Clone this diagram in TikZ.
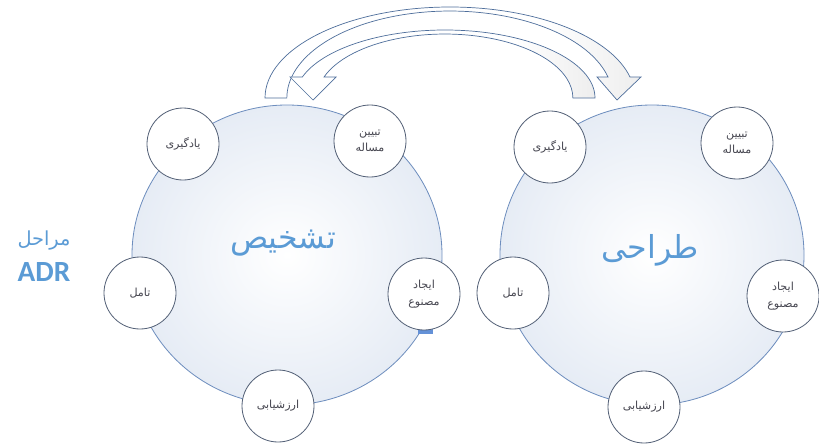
\documentclass[tikz,border=0pt]{standalone}
\usepackage{fontspec}
\usepackage{tikz}
\TeXXeTstate=1
\newfontfamily\farsi[Script=Arabic]{DejaVu Sans}
\newfontfamily\latinfont{Carlito}
\definecolor{adr_blue}{RGB}{91,155,213}
\definecolor{ring_line}{RGB}{110,142,190}
\definecolor{ring_fill}{RGB}{230,236,245}
\definecolor{stage_line}{RGB}{85,98,120}
\definecolor{stage_text}{RGB}{70,70,80}
\definecolor{arrow_line}{RGB}{78,110,155}
\definecolor{mark_blue}{RGB}{100,145,215}
\pgfdeclarehorizontalshading{bendshade}{100bp}{color(0bp)=(white); color(62bp)=(white); color(100bp)=(gray!40)}
\tikzstyle{bigring}=[draw=ring_line,line width=0.7pt,inner color=white,outer color=ring_fill]
\tikzstyle{stagenode}=[circle,fill=white,draw=stage_line,line width=0.7pt,
  inner sep=0pt,minimum size=2.16cm,align=center,text=stage_text,
  font=\farsi\fontsize{9.5}{14}\selectfont]
\tikzstyle{phaselabel}=[text=adr_blue,font=\farsi\fontsize{27}{30}\selectfont]
\tikzstyle{curvearrow}=[draw=arrow_line,line width=0.6pt,shade,shading=bendshade]

\begin{document}
\begin{tikzpicture}[x=0.03cm,y=-0.03cm]
    \useasboundingbox (0,0) rectangle (819,444);
    % the two phases
    \path [style=bigring] (287,255) ellipse [x radius=155, y radius=150];
    \path [style=bigring] (652,255) ellipse [x radius=152, y radius=150];
    % curved arrows on top
    \path [style=curvearrow] (265,98) arc [start angle=180, end angle=346.7, x radius=185, y radius=91]
      -- (641,77) -- (617,100) -- (597,77) -- (608,77)
      arc [start angle=346, end angle=180, x radius=163, y radius=87] -- cycle;
    \path [style=curvearrow] (595,98) arc [start angle=0, end angle=-162, x radius=150, y radius=68]
      -- (290,77) -- (313,100) -- (336,77) -- (324,77)
      arc [start angle=-160.8, end angle=0, x radius=128, y radius=64] -- cycle;
    \fill [mark_blue] (418,328) rectangle (433,334);
    % titles
    \node [style=phaselabel] (diag) at (283,243) {\beginR تشخیص\endR};
    \node [style=phaselabel] (design) at (650,250) {\beginR طراحی\endR};
    \node [text=adr_blue,font=\farsi\fontsize{16.5}{18}\selectfont] (steps) at (44,241) {\beginR مراحل\endR};
    \node [text=adr_blue,font=\latinfont\bfseries\fontsize{25}{28}\selectfont] (adr) at (44,272) {ADR};
    % stages of the left cycle
    \node [style=stagenode] (l_learn) at (183,144) {\beginR یادگیری\endR};
    \node [style=stagenode] (l_define) at (370,141) {\beginR تبیین\endR\\\beginR مساله\endR};
    \node [style=stagenode] (l_build) at (424,294) {\beginR ایجاد\endR\\\beginR مصنوع\endR};
    \node [style=stagenode] (l_eval) at (278,406) {\beginR ارزشیابی\endR};
    \node [style=stagenode] (l_reflect) at (140,293) {\beginR تامل\endR};
    % stages of the right cycle
    \node [style=stagenode] (r_learn) at (550,147) {\beginR یادگیری\endR};
    \node [style=stagenode] (r_define) at (737,143) {\beginR تبیین\endR\\\beginR مساله\endR};
    \node [style=stagenode] (r_build) at (783,296) {\beginR ایجاد\endR\\\beginR مصنوع\endR};
    \node [style=stagenode] (r_eval) at (644,407) {\beginR ارزشیابی\endR};
    \node [style=stagenode] (r_reflect) at (513,293) {\beginR تامل\endR};
\end{tikzpicture}
\end{document}
